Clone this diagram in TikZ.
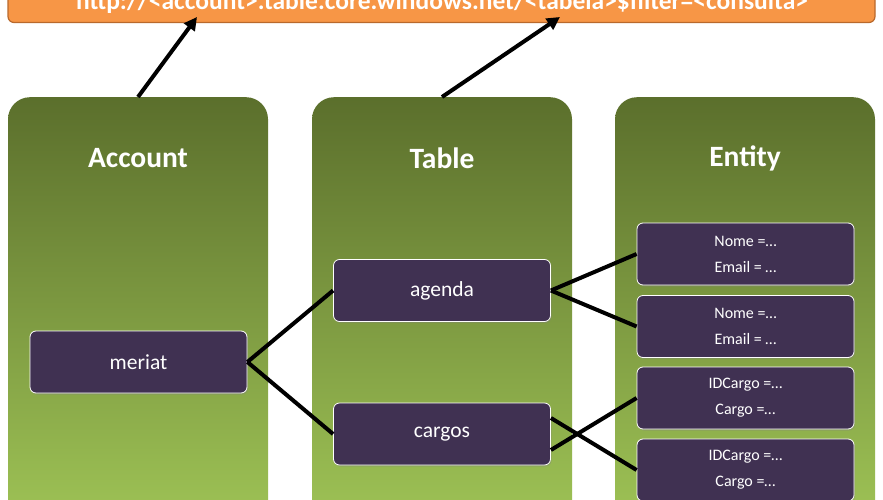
\documentclass[tikz,border=0pt]{standalone}
\usepackage{fontspec}
\setmainfont{Carlito}
\usetikzlibrary{arrows.meta,shadows,calc}
\definecolor{orangeF}{HTML}{F79646}
\definecolor{orangeD}{HTML}{B9692C}
\definecolor{colTop}{HTML}{5B6F2C}
\definecolor{colBot}{HTML}{9FC456}
\definecolor{purp}{HTML}{403152}
\tikzset{
  urlbar/.style={draw=orangeD, line width=1.2pt, fill=orangeF, rounded corners=6pt},
  urltext/.style={text=white, font=\fontsize{25.5}{25.5}\selectfont\bfseries, anchor=base, inner sep=0pt},
  col/.style={rectangle, rounded corners=22pt, top color=colTop, bottom color=colBot, minimum width=260pt, minimum height=430pt, anchor=north, inner sep=0pt},
  hdr/.style={text=white, font=\fontsize{29.5}{29.5}\selectfont\bfseries},
  pbox/.style={rectangle, rounded corners=6pt, fill=purp, draw=white, line width=0.8pt, text=white, minimum width=217pt, minimum height=62pt, inner sep=0pt, drop shadow={shadow xshift=1pt, shadow yshift=-1.5pt, opacity=0.35}},
  tname/.style={font=\fontsize{21.5}{21.5}\selectfont},
  ent/.style={align=center, font=\fontsize{16}{26}\selectfont},
  conn/.style={line width=4pt, black},
  arr/.style={line width=4pt, black, -{Triangle[length=13pt,width=13pt]}}
}
\begin{document}
\begin{tikzpicture}[x=1pt,y=-1pt]
\useasboundingbox (0,0) rectangle (883,500);
\begin{scope}
\clip (0,0) rectangle (883,500);
\fill[white] (0,0) rectangle (883,500);
\draw[urlbar] (8,-30) rectangle (875,22.5);
\node[urltext] (urltxt) at (442,10) {http://<account>.table.core.windows.net/<tabela>\$filter=<consulta>};
\coordinate (u1) at (197,17);
\coordinate (u2) at (560,17);
\node[col] (acc) at (138,97) {};
\node[col] (tab) at (442,97) {};
\node[col] (enti) at (745,97) {};
\node[hdr] (acch) at (138,158) {Account};
\node[hdr] (tabh) at (442,158) {Table};
\node[hdr] (enth) at (745,158) {Entity};
\node[pbox, tname] (meriat) at (138.5,362) {meriat};
\node[pbox, tname] (agenda) at (442,290.5) {agenda};
\node[pbox, tname] (cargos) at (442,434) {cargos};
\node[pbox, ent] (e1) at (745.5,254) {Nome =…\\Email = …};
\node[pbox, ent] (e2) at (745.5,326.5) {Nome =…\\Email = …};
\node[pbox, ent] (e3) at (745.5,398) {IDCargo =…\\Cargo =…};
\node[pbox, ent] (e4) at (745.5,470) {IDCargo =…\\Cargo =…};
\draw[arr] (acc.north) -- (u1);
\draw[arr] (tab.north) -- (u2);
\draw[conn] (meriat.east) -- (agenda.west);
\draw[conn] (meriat.east) -- (cargos.west);
\draw[conn] (agenda.east) -- (e1.west);
\draw[conn] (agenda.east) -- (e2.west);
\draw[conn] ($(cargos.east)+(0,-16)$) -- (e4.west);
\draw[conn] ($(cargos.east)+(0,16)$) -- (e3.west);
\end{scope}
\end{tikzpicture}
\end{document}
